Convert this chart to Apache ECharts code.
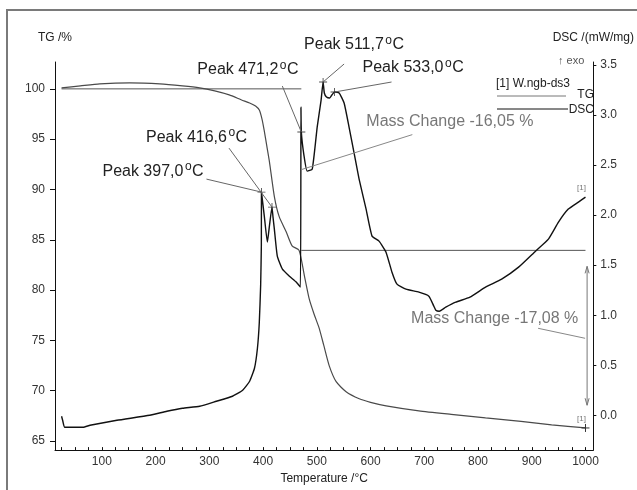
<!DOCTYPE html>
<html>
<head>
<meta charset="utf-8">
<script src="https://cdn.jsdelivr.net/npm/echarts@6/dist/echarts.min.js"></script>
<style>
html,body{margin:0;padding:0;background:#fff;}
#chart{width:637px;height:490px;}
</style>
</head>
<body>
<div id="chart"></div>
<script>
// TG curve: temperature (°C) and residual mass (%)
const tgTemp = [25, 60, 96, 152, 208, 250, 282, 310, 337, 360, 375, 386, 393, 398, 402, 407, 412, 421, 430, 443, 454, 467,
  477, 486, 495, 504.5, 513, 523, 536, 554.5, 579, 600, 629, 690, 750, 814, 880, 937, 1000];
const tgMass = [100.1, 100.3, 100.5, 100.6, 100.5, 100.3, 100.1, 99.8, 99.4, 98.9, 98.6, 98.3, 97.9, 97.0, 95.9, 94.3, 92.7, 89.3, 87.3, 85.8, 84.4, 83.95,
  81.4, 79.1, 77.6, 76.2, 74.5, 72.5, 70.9, 69.9, 69.2, 68.85, 68.5, 68.0, 67.65, 67.3, 66.95, 66.6, 66.3];

// DSC curve: temperature (°C) and heat flow (mW/mg)
const dscTemp = [25, 27, 31, 65, 78, 128, 189, 221, 250, 282, 313, 343, 362, 375, 384, 389.5, 393, 395.5, 396.8, 397.0,
  402.5, 408, 412, 416.6, 418.5, 421, 426.5, 436, 449, 462, 469.5, 470.5, 471.2, 476, 482, 491.5, 500.7, 508, 511.7,
  514, 518, 524, 528, 533.0, 541.6, 550.8, 560, 569.4, 578.7, 591.7, 602.8, 615.8, 628.8, 639.9, 649.2, 665.9, 690,
  708.5, 717.8, 721.5, 728, 740, 758.6, 785, 814, 844, 875.5, 907, 931, 949.7, 968, 986.8, 1000];
const dscFlow = [-0.01, -0.05, -0.12, -0.12, -0.10, -0.05, 0.0, 0.04, 0.07, 0.09, 0.14, 0.19, 0.25, 0.34, 0.47, 0.67, 0.93, 1.3, 1.7, 2.23,
  1.98, 1.73, 1.9, 2.08, 1.98, 1.86, 1.59, 1.46, 1.39, 1.33, 1.28, 3.08, 2.83, 2.6, 2.44, 2.46, 2.88, 3.15, 3.33,
  3.22, 3.18, 3.17, 3.2, 3.23, 3.22, 3.12, 2.88, 2.62, 2.36, 2.06, 1.79, 1.74, 1.63, 1.43, 1.31, 1.26, 1.23,
  1.19, 1.09, 1.05, 1.04, 1.08, 1.13, 1.18, 1.28, 1.36, 1.48, 1.64, 1.76, 1.93, 2.06, 2.13, 2.18];

// labelled DSC peaks
const peakTemp = [397.0, 416.6, 471.2, 511.7, 533.0];
const peakFlow = [2.23, 2.08, 2.83, 3.33, 3.23];

// mass-change evaluation: starting level, steps (%), step boundaries (°C)
const massStart = 100.0;
const massChanges = [-16.05, -17.08];
const stepTemps = [25, 471.2, 1000];
const arrowTemp = 1003;

// tick labels
const xTicks = [100, 200, 300, 400, 500, 600, 700, 800, 900, 1000];
const xMinorTicks = [25, 50, 75, 100, 125, 150, 175, 200, 225, 250, 275, 300, 325, 350, 375, 400, 425, 450, 475, 500,
  525, 550, 575, 600, 625, 650, 675, 700, 725, 750, 775, 800, 825, 850, 875, 900, 925, 950, 975, 1000];
const tgTicks = [65, 70, 75, 80, 85, 90, 95, 100];
const dscTicks = [0, 0.5, 1.0, 1.5, 2.0, 2.5, 3.0, 3.5];

const FONT = '"Liberation Sans", Arial, sans-serif';
const zip = (a, b) => a.map((v, i) => [v, b[i]]);

// mass-change step levels
const level1 = massStart;
const level2 = +(massStart + massChanges[0]).toFixed(2);
const level3 = +(level2 + massChanges[1]).toFixed(2);

const chart = echarts.init(document.getElementById('chart'), null, {renderer: 'canvas'});

const axisCommon = {
  type: 'value',
  splitLine: {show: false},
  axisLine: {show: true, onZero: false, lineStyle: {color: '#111', width: 1}},
  nameTextStyle: {fontSize: 12, color: '#222', fontFamily: FONT}
};

chart.setOption({
  animation: false,
  backgroundColor: '#ffffff',
  grid: {left: 55, right: 42, top: 62, bottom: 38},
  xAxis: Object.assign({}, axisCommon, {
    min: 12.8, max: 1014.6,
    name: 'Temperature /°C', nameLocation: 'middle', nameGap: 17,
    axisTick: {show: true, inside: true, length: 3, customValues: xMinorTicks, lineStyle: {color: '#111'}},
    axisLabel: {customValues: xTicks, fontSize: 12, color: '#333', fontFamily: FONT, margin: 6,
      formatter: v => String(v)}
  }),
  yAxis: [
    Object.assign({}, axisCommon, {
      position: 'left', min: 64.1, max: 102.67,
      name: 'TG /%', nameLocation: 'end', nameGap: 18,
      axisTick: {show: true, length: 5, customValues: tgTicks, lineStyle: {color: '#111'}},
      axisLabel: {customValues: tgTicks, fontSize: 12, color: '#333', fontFamily: FONT, margin: 10,
        formatter: v => String(v)}
    }),
    Object.assign({}, axisCommon, {
      position: 'right', min: -0.348, max: 3.53,
      name: 'DSC /(mW/mg)', nameLocation: 'end', nameGap: 18,
      axisTick: {show: true, length: 3, customValues: dscTicks, lineStyle: {color: '#111'}},
      axisLabel: {customValues: dscTicks, fontSize: 12, color: '#333', fontFamily: FONT, margin: 7,
        formatter: v => v.toFixed(1)}
    })
  ],
  series: [
    {
      name: 'TG', type: 'line', yAxisIndex: 0, data: zip(tgTemp, tgMass),
      symbol: 'none', smooth: 0.2, lineStyle: {color: '#4a4a4a', width: 1.2}, z: 3
    },
    {
      name: 'DSC', type: 'line', yAxisIndex: 1, data: zip(dscTemp, dscFlow),
      symbol: 'none', smooth: 0.15, lineStyle: {color: '#111', width: 1.4}, z: 4
    },
    {
      name: 'step1', type: 'line', yAxisIndex: 0, symbol: 'none',
      data: [[stepTemps[0], level1], [stepTemps[1], level1]],
      lineStyle: {color: '#555', width: 1}, z: 2
    },
    {
      name: 'step2', type: 'line', yAxisIndex: 0, symbol: 'none',
      data: [[stepTemps[1], level2], [stepTemps[2], level2]],
      lineStyle: {color: '#555', width: 1}, z: 2
    },
    {
      name: 'peaks', type: 'scatter', yAxisIndex: 1, data: zip(peakTemp, peakFlow),
      symbol: 'path://M4,0h1v4h4v1h-4v4h-1v-4h-4v-1h4z', symbolSize: 8,
      itemStyle: {color: '#222'}, z: 5
    }
  ]
});

// annotation layout, in pixels relative to the annotated point
const peakLabelLayout = [
  {tx: -159, ty: -21, lx: -55, ly: -13},
  {tx: -126, ty: -70, lx: -43, ly: -59},
  {tx: -104, ty: -62, lx: -19, ly: -46},
  {tx: -19,  ty: -37, lx: 21,  ly: -18},
  {tx: 28,   ty: -24, lx: 57,  ly: -10}
];

const toPx = (seriesIndex, x, y) => chart.convertToPixel({seriesIndex: seriesIndex}, [x, y]);
const fmt = v => v.toFixed(1).replace('.', ',');
const fmt2 = v => v.toFixed(2).replace('.', ',');
const measureCtx = document.createElement('canvas').getContext('2d');
const textWidth = (s, font) => { measureCtx.font = font; return measureCtx.measureText(s).width; };
const graphics = [];

const txt = (x, y, s, font, fill, align) => ({
  type: 'text', silent: true, z: 20, x: x, y: y,
  style: {text: s, font: font, fill: fill, align: align || 'left', textAlign: align || 'left',
    verticalAlign: 'middle', textVerticalAlign: 'middle'}
});
const seg = (x1, y1, x2, y2, stroke) => ({
  type: 'line', silent: true, z: 19,
  shape: {x1: x1, y1: y1, x2: x2, y2: y2}, style: {stroke: stroke, lineWidth: 1}
});

// outer frame
graphics.push({
  type: 'rect', silent: true, z: -10,
  shape: {x: 7, y: 10, width: 700, height: 600},
  style: {fill: 'none', stroke: '#7a7a7a', lineWidth: 2}
});

// peak labels: "Peak T" + raised "o" + "C", with a leader line to the peak mark
const mainFont = '16px ' + FONT, supFont = '12px ' + FONT;
peakTemp.forEach((t, i) => {
  const p = toPx(1, t, peakFlow[i]);
  const L = peakLabelLayout[i];
  const x0 = p[0] + L.tx, y0 = p[1] + L.ty;
  const head = 'Peak ' + fmt(t);
  const w1 = textWidth(head, mainFont);
  const w2 = textWidth('o', supFont);
  graphics.push(txt(x0, y0, head, mainFont, '#222'));
  graphics.push(txt(x0 + w1 + 1.5, y0 - 4, 'o', supFont, '#222'));
  graphics.push(txt(x0 + w1 + w2 + 2, y0, 'C', mainFont, '#222'));
  graphics.push(seg(p[0] + L.lx, p[1] + L.ly, p[0], p[1], '#666'));
});

// first mass change: pointer to the middle of the step at the step temperature
const m1 = toPx(0, stepTemps[1], (level1 + level2) / 2);
graphics.push(txt(m1[0] + 65, m1[1] - 48, 'Mass Change ' + fmt2(massChanges[0]) + ' %', mainFont, '#777'));
graphics.push(seg(m1[0] + 111, m1[1] - 35, m1[0], m1[1], '#888'));

// second mass change: double arrow between the two levels
const a1 = toPx(0, arrowTemp, level2);
const a2 = toPx(0, arrowTemp, level3);
const ay1 = a1[1] + 16, ay2 = a2[1] - 17;
graphics.push(seg(a1[0], ay1, a1[0], ay2, '#777'));
graphics.push({type: 'polyline', silent: true, z: 19,
  shape: {points: [[a1[0] - 2, ay1 + 7], [a1[0], ay1], [a1[0] + 2, ay1 + 7]]},
  style: {stroke: '#777', lineWidth: 1, fill: 'none'}});
graphics.push({type: 'polyline', silent: true, z: 19,
  shape: {points: [[a1[0] - 2, ay2 - 7], [a1[0], ay2], [a1[0] + 2, ay2 - 7]]},
  style: {stroke: '#777', lineWidth: 1, fill: 'none'}});
const m2 = [a1[0], (a1[1] + a2[1]) / 2];
graphics.push(txt(m2[0] - 176, m2[1] - 18, 'Mass Change ' + fmt2(massChanges[1]) + ' %', mainFont, '#777'));
graphics.push(seg(m2[0] - 49, m2[1] - 8, m2[0] - 2, m2[1] + 2, '#888'));

// curve-end tags and end mark
const tgEnd = toPx(0, tgTemp[tgTemp.length - 1], tgMass[tgMass.length - 1]);
const dscEnd = toPx(1, dscTemp[dscTemp.length - 1], dscFlow[dscFlow.length - 1]);
[tgEnd, dscEnd].forEach(p => {
  graphics.push(txt(p[0] - 4, p[1] - 9, '[1]', '8px ' + FONT, '#777', 'center'));
});
graphics.push(seg(tgEnd[0], tgEnd[1] - 4, tgEnd[0], tgEnd[1] + 4, '#333'));
graphics.push(seg(tgEnd[0] - 4, tgEnd[1], tgEnd[0] + 4, tgEnd[1], '#333'));

// legend block
graphics.push(txt(558, 61, '↑ exo', '11px ' + FONT, '#555'));
graphics.push(txt(496, 84, '[1] W.ngb-ds3', '12px ' + FONT, '#222'));
graphics.push(seg(497, 96, 566, 96, '#777'));
graphics.push(seg(497, 109, 568, 109, '#111'));
graphics.push(txt(594, 95, 'TG', '12px ' + FONT, '#222', 'right'));
graphics.push(txt(594, 110, 'DSC', '12px ' + FONT, '#222', 'right'));

chart.setOption({graphic: {elements: graphics}});
</script>
</body>
</html>
